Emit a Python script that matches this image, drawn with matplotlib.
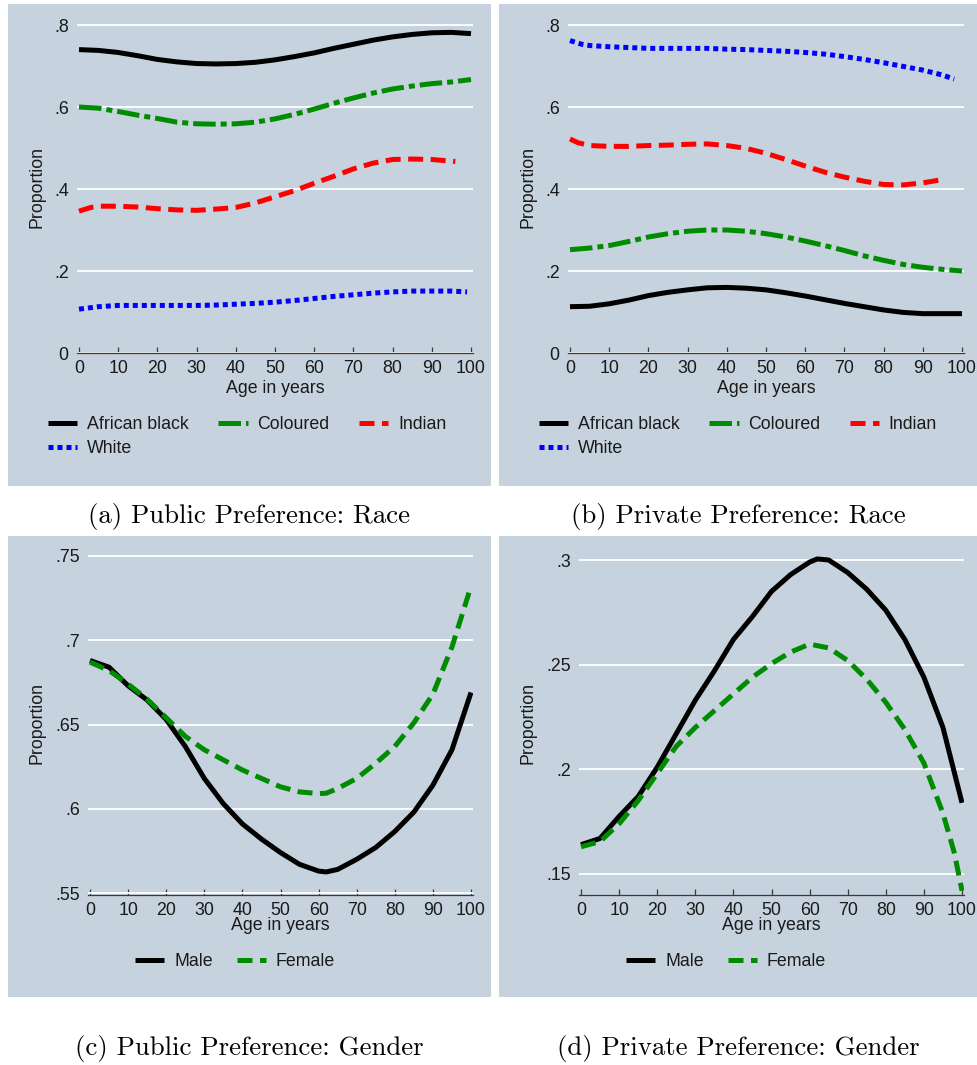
import matplotlib
matplotlib.use("Agg")
import matplotlib.pyplot as plt
from matplotlib.patches import Rectangle

plt.rcParams["font.family"] = ["Liberation Sans", "DejaVu Sans"]

# ---- data (proportion by age) ----
ages5 = [0, 5, 10, 15, 20, 25, 30, 35, 40, 45, 50, 55, 60, 65, 70, 75, 80, 85, 90, 95, 100]

# (a) public preference by race
pub_black = [.740, .738, .733, .725, .716, .710, .706, .705, .706, .709, .715,
             .723, .732, .743, .753, .763, .771, .777, .781, .782, .779]
pub_col = [.600, .597, .589, .580, .572, .563, .559, .558, .559, .563, .571,
           .582, .595, .609, .622, .634, .644, .651, .657, .661, .667]
pub_ind_age = [0, 3, 5, 10, 15, 20, 25, 30, 35, 40, 45, 50, 55, 60, 65, 70, 75, 80, 85, 90, 96]
pub_ind = [.346, .355, .358, .358, .356, .352, .349, .348, .351, .355, .366,
           .381, .396, .414, .431, .449, .463, .472, .473, .472, .467]
pub_white_age = [0, 5, 10, 15, 20, 25, 30, 35, 40, 45, 50, 55, 60, 65, 70, 75, 80, 85, 90, 95, 99]
pub_white = [.107, .113, .116, .116, .116, .116, .116, .117, .119, .121, .124,
             .128, .133, .138, .142, .146, .149, .151, .151, .151, .149]

# (b) private preference by race
priv_black = [.113, .114, .120, .129, .140, .148, .154, .159, .160, .158, .154,
              .147, .139, .130, .121, .113, .105, .099, .096, .096, .096]
priv_col = [.252, .256, .262, .272, .283, .291, .297, .300, .300, .297, .291,
            .283, .273, .262, .250, .237, .226, .216, .209, .204, .200]
priv_ind_age = [0, 2, 5, 10, 15, 20, 25, 30, 35, 40, 45, 50, 55, 60, 65, 70, 75, 80, 85, 90, 95]
priv_ind = [.522, .513, .506, .504, .504, .506, .507, .509, .510, .506, .499,
            .487, .472, .456, .441, .429, .419, .411, .410, .415, .423]
priv_white_age = [0, 3, 5, 10, 15, 20, 25, 30, 35, 40, 45, 50, 55, 60, 65, 70, 75, 80, 85, 90, 95, 98]
priv_white = [.762, .753, .750, .747, .745, .743, .743, .743, .743, .741, .740,
              .738, .736, .733, .729, .723, .716, .708, .699, .690, .678, .668]

# (c) public preference by gender
gender_age = [0, 5, 10, 15, 20, 25, 30, 35, 40, 45, 50, 55, 60, 62, 65, 70, 75, 80, 85, 90, 95, 100]
pub_male = [.688, .684, .673, .6645, .653, .637, .618, .603, .591, .582, .574,
            .567, .563, .5625, .564, .570, .577, .5865, .598, .614, .635, .669]
pub_female = [.687, .682, .674, .665, .654, .643, .635, .629, .623, .618, .613,
              .610, .609, .6092, .612, .618, .627, .637, .651, .668, .696, .732]

# (d) private preference by gender
priv_male = [.164, .167, .1775, .187, .201, .217, .233, .247, .262, .273, .285,
             .293, .299, .3005, .300, .294, .286, .276, .262, .244, .220, .184]
priv_female_age = [0, 5, 10, 15, 20, 25, 30, 35, 40, 45, 50, 55, 60, 65, 70, 75, 80, 85, 90, 95, 98, 100]
priv_female = [.163, .1655, .174, .185, .198, .211, .220, .228, .236, .244, .2505,
               .256, .2598, .258, .252, .243, .232, .219, .203, .179, .160, .142]

xticks = [0, 10, 20, 30, 40, 50, 60, 70, 80, 90, 100]
race_yticks = [0, .2, .4, .6, .8]
race_ylabels = ["0", ".2", ".4", ".6", ".8"]
pubg_yticks = [.55, .6, .65, .7, .75]
pubg_ylabels = [".55", ".6", ".65", ".7", ".75"]
privg_yticks = [.15, .2, .25, .3]
privg_ylabels = [".15", ".2", ".25", ".3"]

W, H = 978, 1065
BG = "#c6d2de"
TXT = "#1a1a1a"
FS = 12.8

fig = plt.figure(figsize=(W / 100, H / 100), dpi=100)

# panel backgrounds (pixels: left, top, right, bottom)
for l, t, r, b in [(8, 4, 491, 486), (499, 4, 978, 486), (8, 536, 491, 997), (499, 536, 978, 997)]:
    fig.add_artist(Rectangle((l / W, 1 - b / H), (r - l) / W, (b - t) / H,
                             transform=fig.transFigure, facecolor=BG,
                             edgecolor="none", zorder=-5))


def make_ax(x0, x100, vlo, plo, vhi, phi, top, bottom, yticks, ylabels, ylab_x, ylab_y, xlab_y):
    left, right = x0 - 2, x100 + 2
    ax = fig.add_axes([left / W, 1 - bottom / H, (right - left) / W, (bottom - top) / H])
    ax.patch.set_visible(False)
    xs = (x100 - x0) / 100.0
    ax.set_xlim(-2 / xs, 100 + 2 / xs)
    ys = (plo - phi) / (vhi - vlo)
    ax.set_ylim(vlo - (bottom - plo) / ys, vhi + (phi - top) / ys)
    ax.set_xticks(xticks)
    ax.set_yticks(yticks)
    ax.set_yticklabels(ylabels)
    for s in ["left", "right", "top"]:
        ax.spines[s].set_visible(False)
    ax.spines["bottom"].set_color("#3a3a3a")
    ax.spines["bottom"].set_linewidth(0.9)
    ax.tick_params(axis="x", direction="in", length=4.5, width=0.9, color="#3a3a3a",
                   labelsize=FS, labelcolor=TXT, pad=5)
    ax.tick_params(axis="y", length=0, labelsize=FS, labelcolor=TXT, pad=6)
    ax.grid(axis="y", color="white", linewidth=1.3)
    ax.grid(axis="x", visible=False)
    ax.set_axisbelow(True)
    ax.set_ylabel("Proportion", fontsize=FS, color=TXT)
    ax.yaxis.label.set_va("center")
    ax.yaxis.set_label_coords((ylab_x - left) / (right - left), (bottom - ylab_y) / (bottom - top))
    ax.set_xlabel("Age in years", fontsize=FS, color=TXT)
    ax.xaxis.label.set_va("center")
    ax.xaxis.set_label_coords(((x0 + x100) / 2 - left) / (right - left),
                              (bottom - xlab_y) / (bottom - top))
    return ax


LW = 3.6
green = "#008c00"
sty_black = dict(color="black", lw=LW, solid_capstyle="butt")
sty_col = dict(color=green, lw=LW, dashes=(4.5, 1.0, 1.2, 1.0))
sty_ind = dict(color="#ff0000", lw=LW, dashes=(3.0, 1.5))
sty_white = dict(color="#0000ff", lw=LW, dashes=(1.0, 0.8))
sty_fem = dict(color=green, lw=LW, dashes=(3.0, 1.5))

# (a)
ax = make_ax(79, 471, 0, 353, .8, 25, 12, 353, race_yticks, race_ylabels, 37, 187, 388)
h1, = ax.plot(ages5, pub_black, **sty_black)
h2, = ax.plot(ages5, pub_col, **sty_col)
h3, = ax.plot(pub_ind_age, pub_ind, **sty_ind)
h4, = ax.plot(pub_white_age, pub_white, **sty_white)
leg_h = [h1, h4, h2, h3]
leg_l = ["African black", "White", "Coloured", "Indian"]

# (b)
ax = make_ax(570, 962, 0, 353, .8, 25, 12, 353, race_yticks, race_ylabels, 528, 187, 388)
ax.plot(ages5, priv_black, **sty_black)
ax.plot(ages5, priv_col, **sty_col)
ax.plot(priv_ind_age, priv_ind, **sty_ind)
ax.plot(priv_white_age, priv_white, **sty_white)

# (c)
ax = make_ax(90, 471, .55, 893, .75, 556, 545, 895, pubg_yticks, pubg_ylabels, 37, 723, 926)
g1, = ax.plot(gender_age, pub_male, **sty_black)
g2, = ax.plot(gender_age, pub_female, **sty_fem)

# (d)
ax = make_ax(581, 962, .15, 874, .3, 560, 548, 895, privg_yticks, privg_ylabels, 528, 723, 926)
ax.plot(gender_age, priv_male, **sty_black)
ax.plot(priv_female_age, priv_female, **sty_fem)

legkw = dict(frameon=False, fontsize=FS, handlelength=1.65, handletextpad=0.55,
             borderpad=0, borderaxespad=0, labelcolor=TXT, loc="center left",
             labelspacing=0.42)
for x in (48, 539):
    fig.legend(leg_h, leg_l, ncol=3, columnspacing=1.65,
               bbox_to_anchor=(x / W, 1 - 436.5 / H), **legkw)
for x in (135, 626):
    fig.legend([g1, g2], ["Male", "Female"], ncol=2, columnspacing=1.35,
               bbox_to_anchor=(x / W, 1 - 961.5 / H), **legkw)

captions = ["(a) Public Preference: Race", "(b) Private Preference: Race",
            "(c) Public Preference: Gender", "(d) Private Preference: Gender"]
for cap, (cx, cy) in zip(captions, [(249.5, 517), (738.5, 517), (249.5, 1048), (738.5, 1048)]):
    fig.text(cx / W, 1 - cy / H, cap, ha="center", va="center",
             family="cmr10", fontsize=19.3, color="black")

fig.savefig("out.png", dpi=100, facecolor="white")
